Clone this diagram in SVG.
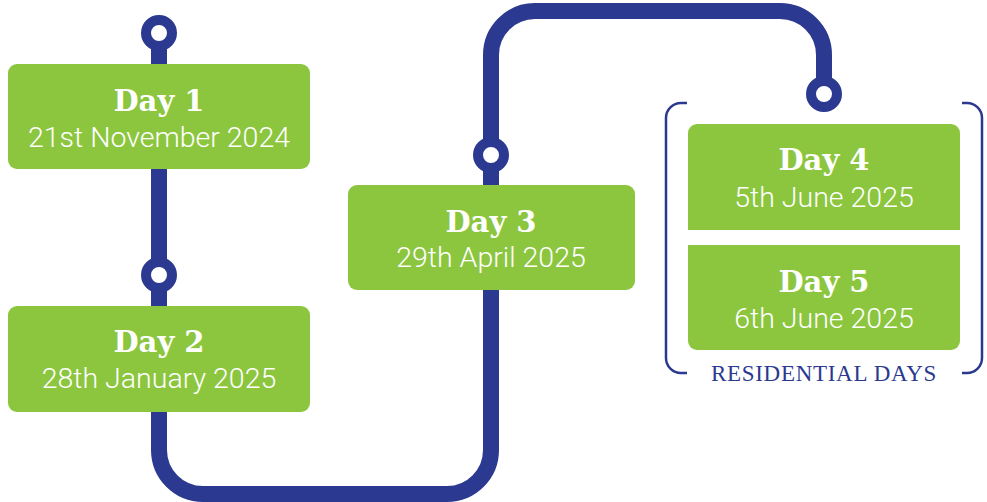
<svg xmlns="http://www.w3.org/2000/svg" width="987" height="502" viewBox="0 0 987 502">
<style>
.line{fill:none;stroke:#2b3990;stroke-width:16}
.stop{fill:#fff;stroke:#2b3990;stroke-width:10}
.box{fill:#8cc63f}
.title{font-family:"DejaVu Serif",serif;font-weight:bold;font-size:29px;fill:#fff;text-anchor:middle}
.date{font-family:Roboto,"Liberation Sans",sans-serif;font-weight:300;font-size:28.5px;fill:#fff;text-anchor:middle}
.bracket{fill:none;stroke:#2b3990;stroke-width:2.5}
.label{font-family:"Liberation Serif",serif;font-size:23px;letter-spacing:0.7px;fill:#2b3990;text-anchor:middle}
</style>
<rect width="987" height="502" fill="#fff"/>
<g id="connectors">
<path class="line" d="M159,33 L159,450 A44,44 0 0 0 203,494 L447,494 A44,44 0 0 0 491,450 L491,55 A44,44 0 0 1 535,11 L780,11 A44,44 0 0 1 824,55 L824,94"/>
</g>
<g id="day1">
<circle class="stop" cx="159" cy="33" r="13"/>
<rect class="box" x="8" y="64" width="302" height="105" rx="9"/>
<text class="title" x="159" y="111">Day 1</text>
<text class="date" x="159" y="147">21st November 2024</text>
</g>
<g id="day2">
<circle class="stop" cx="159" cy="275" r="13"/>
<rect class="box" x="8" y="306" width="302" height="106" rx="9"/>
<text class="title" x="159" y="352">Day 2</text>
<text class="date" x="159" y="388">28th January 2025</text>
</g>
<g id="day3">
<circle class="stop" cx="491" cy="155" r="13"/>
<rect class="box" x="348" y="185" width="287" height="105" rx="9"/>
<text class="title" x="491" y="232">Day 3</text>
<text class="date" x="491" y="267">29th April 2025</text>
</g>
<g id="residential">
<path class="bracket" d="M687,103 H681 A15,15 0 0 0 666,118 V358 A15,15 0 0 0 681,373 H687"/>
<path class="bracket" d="M962,103 H967 A15,15 0 0 1 982,118 V358 A15,15 0 0 1 967,373 H962"/>
<text class="label" x="824" y="381">RESIDENTIAL DAYS</text>
</g>
<g id="day4">
<circle class="stop" cx="824" cy="94" r="13"/>
<path class="box" d="M688,230 V133 A9,9 0 0 1 697,124 H951 A9,9 0 0 1 960,133 V230 Z"/>
<text class="title" x="824" y="170">Day 4</text>
<text class="date" x="824" y="207">5th June 2025</text>
</g>
<g id="day5">
<path class="box" d="M688,245 H960 V341 A9,9 0 0 1 951,350 H697 A9,9 0 0 1 688,341 Z"/>
<text class="title" x="824" y="292">Day 5</text>
<text class="date" x="824" y="328">6th June 2025</text>
</g>
</svg>
